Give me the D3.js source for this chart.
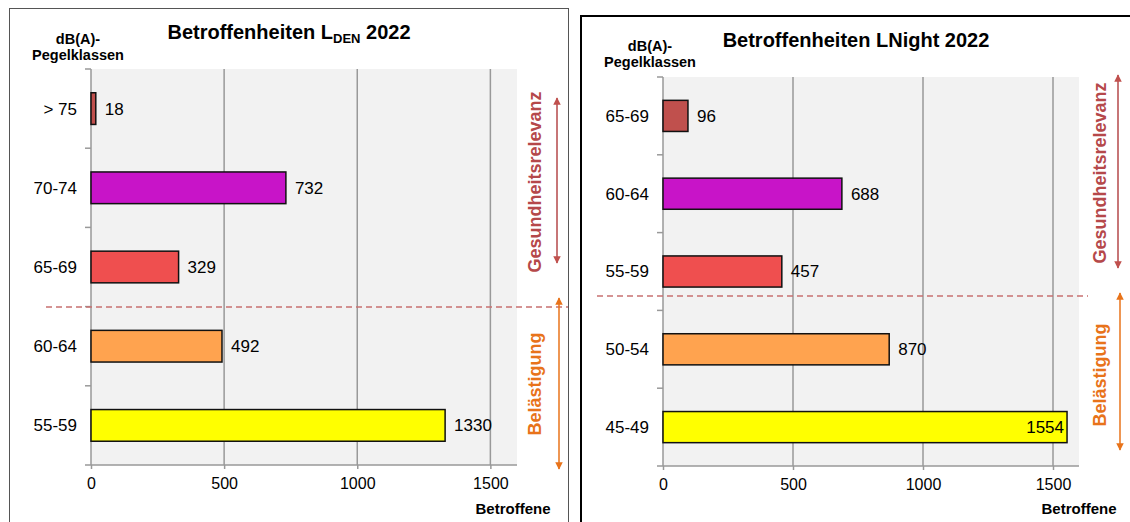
<!DOCTYPE html>
<html>
<head>
<meta charset="utf-8">
<script src="https://cdn.jsdelivr.net/npm/d3@7"></script>
<style>
  body { margin: 0; background: #fff; }
  svg { display: block; font-family: "Liberation Sans", Arial, sans-serif; }
</style>
</head>
<body>
<div id="chart"></div>
<script>
// data
const ldenClasses = ["> 75", "70-74", "65-69", "60-64", "55-59"];
const ldenValues = [18, 732, 329, 492, 1330];
const nightClasses = ["65-69", "60-64", "55-59", "50-54", "45-49"];
const nightValues = [96, 688, 457, 870, 1554];
const barColors = ["#c0504d", "#c814c8", "#ef4f4f", "#ffa34f", "#ffff00"];
const xTicks = [0, 500, 1000, 1500];
const xMax = 1600;

const svg = d3.select("#chart").append("svg")
  .attr("width", 1130).attr("height", 522);

// arrow heads
const defs = svg.append("defs");
[["red", "#c0504d"], ["orange", "#e8731a"]].forEach(([id, col]) => {
  defs.append("marker").attr("id", "arr-" + id)
    .attr("viewBox", "0 0 10 10").attr("refX", 9).attr("refY", 5)
    .attr("markerWidth", 5).attr("markerHeight", 5)
    .attr("orient", "auto-start-reverse")
    .append("path").attr("d", "M0,0L10,5L0,10z").attr("fill", col);
});

function drawPanel(p) {
  const g = svg.append("g");

  g.append("rect")
    .attr("x", p.box[0]).attr("y", p.box[1])
    .attr("width", p.box[2]).attr("height", p.box[3])
    .attr("fill", "none").attr("stroke", p.boxStroke).attr("stroke-width", p.boxWidth);

  const x = d3.scaleLinear().domain([0, xMax]).range([p.x0, p.x1]);
  const y = d3.scaleBand().domain(p.classes).range([p.y0, p.y1]).paddingInner(0.6).paddingOuter(0.3);

  g.append("rect")
    .attr("x", p.x0).attr("y", p.y0)
    .attr("width", p.x1 - p.x0).attr("height", p.y1 - p.y0)
    .attr("fill", "#f2f2f2");

  // grid
  g.selectAll(".grid").data(xTicks.slice(1)).join("line")
    .attr("x1", d => x(d)).attr("x2", d => x(d))
    .attr("y1", p.y0).attr("y2", p.y1)
    .attr("stroke", "#999").attr("stroke-width", 1.5);

  // x axis
  const xa = g.append("g").attr("transform", `translate(0,${p.y1})`)
    .call(d3.axisBottom(x).tickValues(xTicks).tickFormat(d3.format("d"))
      .tickSizeInner(4).tickSizeOuter(0).tickPadding(9));
  xa.select(".domain").attr("stroke", "#999").attr("stroke-width", 1.5)
    .attr("d", `M${p.x0 - 6},0H${p.x1}`);
  xa.selectAll(".tick line").attr("stroke", "#999").attr("stroke-width", 1.5);
  xa.selectAll("text").attr("font-size", 16).attr("fill", "#000")
    .attr("font-family", "Liberation Sans, Arial, sans-serif");

  // y axis with ticks at band borders
  const step = y.step();
  g.append("line").attr("x1", p.x0).attr("x2", p.x0)
    .attr("y1", p.y0).attr("y2", p.y1)
    .attr("stroke", "#999").attr("stroke-width", 1.5);
  g.selectAll(".ytick").data(d3.range(p.classes.length)).join("line")
    .attr("x1", p.x0 - 6).attr("x2", p.x0)
    .attr("y1", i => p.y0 + i * step).attr("y2", i => p.y0 + i * step)
    .attr("stroke", "#999").attr("stroke-width", 1.5);
  g.selectAll(".ylab").data(p.classes).join("text")
    .attr("x", p.x0 - 14).attr("y", d => y(d) + y.bandwidth() / 2)
    .attr("dy", "0.35em").attr("text-anchor", "end")
    .attr("font-size", 17).text(d => d);

  // bars
  const rows = p.classes.map((c, i) => ({ c, v: p.values[i], col: barColors[i] }));
  g.selectAll(".bar").data(rows).join("rect")
    .attr("x", x(0)).attr("y", d => y(d.c))
    .attr("width", d => x(d.v) - x(0)).attr("height", y.bandwidth())
    .attr("fill", d => d.col).attr("stroke", "#111").attr("stroke-width", 1.5);
  g.selectAll(".val").data(rows).join("text")
    .attr("x", d => d.v > 1450 ? x(d.v) - 3 : x(d.v) + 9)
    .attr("y", d => y(d.c) + y.bandwidth() / 2)
    .attr("dy", "0.35em")
    .attr("text-anchor", d => d.v > 1450 ? "end" : "start")
    .attr("font-size", 17).text(d => d.v);

  // header texts
  const title = g.append("text").attr("x", p.titleX).attr("y", p.titleY)
    .attr("font-size", 20).attr("font-weight", "bold").attr("text-anchor", "middle");
  p.title.forEach(t => {
    title.append("tspan").attr("font-size", t.sub ? 13 : 20)
      .attr("dy", t.dy || 0).text(t.s);
  });
  g.append("text").attr("x", p.headX).attr("y", p.headY)
    .attr("text-anchor", "middle").attr("font-size", 14.5).attr("font-weight", "bold")
    .text("dB(A)-");
  g.append("text").attr("x", p.headX).attr("y", p.headY + 16)
    .attr("text-anchor", "middle").attr("font-size", 14.5).attr("font-weight", "bold")
    .text("Pegelklassen");
  g.append("text").attr("x", p.unitX).attr("y", 514)
    .attr("text-anchor", "middle").attr("font-size", 15).attr("font-weight", "bold")
    .text("Betroffene");

  // separating dashed line
  g.append("line").attr("x1", p.dash[0]).attr("x2", p.dash[1])
    .attr("y1", p.dashY).attr("y2", p.dashY)
    .attr("stroke", "#c87070").attr("stroke-width", 1.5).attr("stroke-dasharray", "6,4");

  // side annotations
  const side = (label, col, marker, tx, ty, ax, ay0, ay1) => {
    g.append("text").attr("transform", `translate(${tx},${ty}) rotate(-90)`)
      .attr("text-anchor", "middle").attr("dy", "0.35em")
      .attr("font-size", 18).attr("font-weight", "bold").attr("fill", col).text(label);
    g.append("line").attr("x1", ax).attr("x2", ax).attr("y1", ay0).attr("y2", ay1)
      .attr("stroke", col).attr("stroke-width", 1.5)
      .attr("marker-start", `url(#arr-${marker})`).attr("marker-end", `url(#arr-${marker})`);
  };
  side("Gesundheitsrelevanz", "#b5484a", "red", p.sideX, p.health[0], p.arrX, p.health[1], p.health[2]);
  side("Belästigung", "#e8731a", "orange", p.sideX, p.annoy[0], p.arrX2, p.annoy[1], p.annoy[2]);
}

drawPanel({
  classes: ldenClasses, values: ldenValues,
  box: [9.5, 8.5, 559, 520], boxStroke: "#555", boxWidth: 1,
  x0: 91, x1: 517, y0: 69, y1: 465,
  title: [{ s: "Betroffenheiten L" }, { s: "DEN", sub: true, dy: 4 }, { s: " 2022", dy: -4 }],
  titleX: 289, titleY: 39,
  headX: 78, headY: 44, unitX: 513,
  dash: [46, 568], dashY: 307,
  sideX: 535, arrX: 557, arrX2: 559,
  health: [182, 98, 263], annoy: [384, 298, 469]
});

drawPanel({
  classes: nightClasses, values: nightValues,
  box: [581, 16, 560, 520], boxStroke: "#000", boxWidth: 2,
  x0: 663, x1: 1079, y0: 77, y1: 466,
  title: [{ s: "Betroffenheiten LNight 2022" }],
  titleX: 856, titleY: 47,
  headX: 650, headY: 51, unitX: 1079,
  dash: [597, 1088], dashY: 296,
  sideX: 1100, arrX: 1118, arrX2: 1120,
  health: [173, 75, 268], annoy: [375, 293, 450]
});
</script>
</body>
</html>
